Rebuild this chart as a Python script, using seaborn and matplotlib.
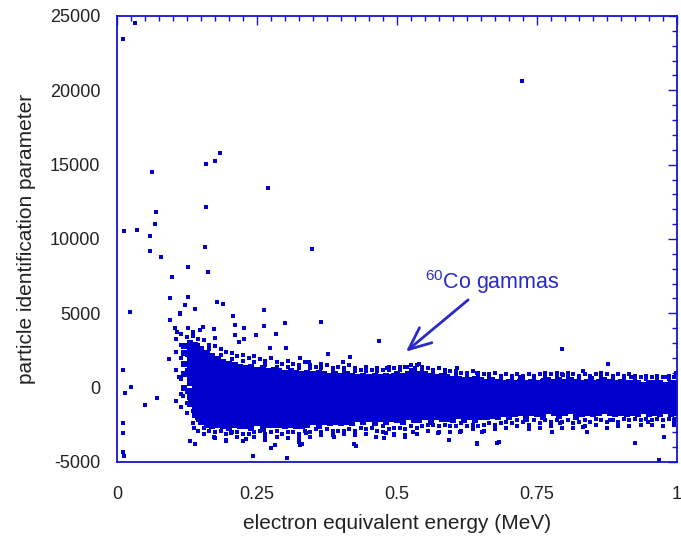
import matplotlib
matplotlib.use("Agg")
import matplotlib.pyplot as plt
from matplotlib.ticker import MultipleLocator
import pandas as pd
import seaborn as sns

# ---- data -------------------------------------------------------------
# Dense gamma band: one list of PID values per energy column (MeV)
core_energy = [
    0.12, 0.13, 0.14, 0.15, 0.16, 0.17, 0.18, 0.19, 0.20, 0.21,
    0.22, 0.23, 0.24, 0.25, 0.26, 0.27, 0.28, 0.29, 0.30, 0.31,
    0.32, 0.33, 0.34, 0.35, 0.36, 0.37, 0.38, 0.39, 0.40, 0.41,
    0.42, 0.43, 0.44, 0.45, 0.46, 0.47, 0.48, 0.49, 0.50, 0.51,
    0.52, 0.53, 0.54, 0.55, 0.56, 0.57, 0.58, 0.59, 0.60, 0.61,
    0.62, 0.63, 0.64, 0.65, 0.66, 0.67, 0.68, 0.69, 0.70, 0.71,
    0.72, 0.73, 0.74, 0.75, 0.76, 0.77, 0.78, 0.79, 0.80, 0.81,
    0.82, 0.83, 0.84, 0.85, 0.86, 0.87, 0.88, 0.89, 0.90, 0.91,
    0.92, 0.93, 0.94, 0.95, 0.96, 0.97, 0.98, 0.99, 1.00,
]
core_pid = [
    [2800, 2300, 1600, 900, 0],
    [3000, 2600, 2200, 1900, 1500, 1100, 700, 300, -200, -600, -1100],
    [2900, 2500, 2100, 1800, 1400, 1000, 700, 300, -100, -500, -900, -1300, -1700],
    [2600, 2300, 1900, 1500, 1200, 800, 500, 100, -200, -600, -900, -1300, -1600, -2000, -2300],
    [2300, 2000, 1600, 1300, 900, 600, 200, -100, -500, -800, -1100, -1500, -1800, -2100, -2500],
    [2100, 1700, 1400, 1000, 700, 300, 0, -400, -700, -1000, -1300, -1700, -2000, -2300, -2600],
    [1900, 1500, 1200, 800, 500, 100, -200, -500, -800, -1200, -1500, -1800, -2100, -2500],
    [1700, 1400, 1000, 700, 400, 0, -300, -600, -900, -1300, -1600, -1900, -2200, -2600],
    [1600, 1200, 900, 600, 200, -100, -400, -700, -1000, -1400, -1700, -2000, -2400, -2700],
    [1500, 1100, 800, 500, 100, -200, -500, -800, -1200, -1500, -1800, -2100, -2500],
    [1400, 1100, 700, 400, 100, -300, -600, -900, -1200, -1500, -1900, -2200, -2600],
    [1300, 1000, 700, 300, 0, -300, -600, -900, -1300, -1600, -1900, -2300, -2600],
    [1400, 1000, 600, 300, 0, -400, -700, -1000, -1300, -1600, -2000, -2300, -2700],
    [1200, 900, 600, 200, -100, -400, -700, -1000, -1400, -1700, -2000, -2400],
    [1300, 900, 500, 200, -100, -400, -700, -1100, -1400, -1700, -2100, -2400, -2800],
    [1100, 800, 500, 200, -200, -500, -800, -1100, -1400, -1800, -2100, -2500],
    [1200, 800, 400, 100, -200, -500, -800, -1100, -1500, -1800, -2100, -2500],
    [1100, 700, 400, 100, -200, -600, -900, -1200, -1500, -1800, -2200, -2500],
    [1000, 700, 400, 0, -300, -600, -900, -1200, -1500, -1900, -2200, -2600],
    [1100, 700, 300, 0, -300, -600, -900, -1300, -1600, -1900, -2200, -2500],
    [1000, 600, 300, 0, -300, -700, -1000, -1300, -1600, -1900, -2300, -2600],
    [900, 600, 300, -100, -400, -700, -1000, -1300, -1600, -2000, -2300, -2600],
    [1000, 700, 300, 0, -300, -600, -1000, -1300, -1600, -1900, -2200, -2500],
    [900, 600, 200, -100, -400, -700, -1000, -1300, -1700, -2000, -2300],
    [1000, 600, 300, 0, -400, -700, -1000, -1300, -1600, -1900, -2300, -2600],
    [900, 500, 200, -100, -400, -700, -1100, -1400, -1700, -2000, -2300],
    [800, 500, 200, -100, -500, -800, -1100, -1400, -1700, -2000, -2400],
    [900, 600, 200, -100, -400, -700, -1000, -1400, -1700, -2000, -2300],
    [800, 500, 100, -200, -500, -800, -1100, -1400, -1700, -2100, -2400],
    [900, 500, 200, -100, -400, -700, -1000, -1300, -1700, -2000, -2300],
    [800, 400, 100, -200, -500, -800, -1100, -1500, -1800, -2100, -2400],
    [700, 400, 100, -200, -500, -900, -1200, -1500, -1800, -2100],
    [800, 500, 200, -200, -500, -800, -1100, -1400, -1700, -2000, -2300],
    [700, 400, 100, -200, -600, -900, -1200, -1500, -1800, -2100],
    [800, 400, 100, -200, -500, -800, -1100, -1400, -1700, -2000, -2400],
    [700, 400, 0, -300, -600, -900, -1200, -1500, -1800, -2100],
    [800, 500, 100, -200, -500, -800, -1100, -1400, -1700, -2000, -2300],
    [700, 400, 100, -200, -500, -800, -1200, -1500, -1800, -2100],
    [900, 500, 200, -100, -400, -700, -1000, -1300, -1600, -1900, -2200],
    [800, 500, 200, -100, -500, -800, -1100, -1400, -1700, -2000, -2300],
    [900, 500, 200, -100, -400, -700, -1000, -1300, -1700, -2000],
    [1000, 700, 300, 0, -300, -600, -900, -1200, -1500, -1800, -2200],
    [900, 600, 300, 0, -300, -700, -1000, -1300, -1600, -1900, -2200],
    [900, 500, 200, -100, -400, -700, -1000, -1300, -1600, -2000],
    [800, 500, 200, -100, -400, -700, -1000, -1400, -1700, -2000, -2300],
    [700, 400, 100, -200, -500, -800, -1100, -1400, -1700, -2000],
    [800, 400, 100, -200, -500, -800, -1200, -1500, -1800, -2100],
    [700, 300, 0, -300, -600, -900, -1200, -1500, -1800, -2100],
    [600, 300, 0, -300, -600, -900, -1300, -1600, -1900, -2200],
    [600, 300, 0, -300, -700, -1000, -1300, -1600, -1900],
    [500, 200, -100, -400, -700, -1000, -1300, -1600, -1900, -2200],
    [500, 200, -100, -400, -700, -1000, -1300, -1700, -2000],
    [600, 200, -100, -400, -700, -1000, -1300, -1600, -1900, -2200],
    [500, 200, -100, -400, -800, -1100, -1400, -1700, -2000],
    [400, 100, -200, -500, -800, -1100, -1400, -1700, -2000],
    [500, 200, -100, -400, -700, -1000, -1300, -1600, -1900],
    [400, 100, -200, -500, -800, -1100, -1400, -1700, -2000],
    [300, 0, -300, -600, -900, -1200, -1500, -1800],
    [400, 100, -200, -500, -800, -1100, -1400, -1700, -2000],
    [300, 0, -300, -600, -900, -1200, -1500, -1800],
    [400, 100, -200, -500, -800, -1100, -1400, -1700],
    [300, 0, -300, -600, -900, -1200, -1500, -1800, -2100],
    [400, 100, -200, -500, -800, -1100, -1400, -1700],
    [300, 0, -300, -600, -900, -1200, -1500, -1800],
    [400, 100, -200, -500, -800, -1100, -1400, -1700, -2000],
    [500, 200, -100, -400, -700, -1000, -1300, -1600],
    [400, 100, -200, -500, -800, -1100, -1400, -1700],
    [500, 200, -100, -400, -700, -1000, -1300, -1600, -1900],
    [400, 100, -200, -500, -800, -1100, -1400, -1700],
    [500, 200, -100, -400, -700, -1000, -1300, -1600],
    [400, 100, -200, -500, -800, -1100, -1400, -1700, -2000],
    [300, 0, -300, -600, -900, -1200, -1500, -1800],
    [400, 100, -200, -500, -800, -1100, -1400, -1700],
    [300, 0, -300, -600, -900, -1200, -1500, -1800],
    [400, 100, -200, -500, -800, -1100, -1400, -1700],
    [500, 200, -100, -400, -700, -1000, -1300, -1600],
    [400, 100, -200, -500, -800, -1100, -1400, -1700],
    [300, 0, -300, -600, -900, -1200, -1500, -1800],
    [400, 100, -200, -500, -800, -1100, -1400, -1700],
    [300, 0, -300, -600, -900, -1200, -1500, -1800],
    [300, 0, -300, -600, -900, -1200, -1500, -1700],
    [300, 0, -300, -600, -900, -1200, -1500, -1800],
    [200, -100, -400, -700, -1000, -1300, -1600],
    [300, 0, -300, -600, -900, -1200, -1500, -1800],
    [300, 0, -300, -600, -900, -1200, -1500, -1700],
    [300, 0, -300, -600, -900, -1200, -1500, -1800],
    [200, -100, -400, -700, -1000, -1300, -1600],
    [300, 0, -300, -600, -900, -1200, -1500, -1800],
    [300, 0, -300, -600, -900, -1200, -1500, -1700],
]

# Looser events along the upper and lower edges of the band
fringe_energy = [
    0.105, 0.115, 0.125, 0.135, 0.145, 0.155, 0.165, 0.175, 0.185, 0.195,
    0.205, 0.215, 0.225, 0.235, 0.245, 0.255, 0.265, 0.275, 0.285, 0.295,
    0.305, 0.315, 0.325, 0.335, 0.345, 0.355, 0.365, 0.375, 0.385, 0.395,
    0.405, 0.415, 0.425, 0.435, 0.445, 0.455, 0.465, 0.475, 0.485, 0.495,
    0.505, 0.515, 0.525, 0.535, 0.545, 0.555, 0.565, 0.575, 0.585, 0.595,
    0.605, 0.615, 0.625, 0.635, 0.645, 0.655, 0.665, 0.675, 0.685, 0.695,
    0.705, 0.715, 0.725, 0.735, 0.745, 0.755, 0.765, 0.775, 0.785, 0.795,
    0.805, 0.815, 0.825, 0.835, 0.845, 0.855, 0.865, 0.875, 0.885, 0.895,
    0.905, 0.915, 0.925, 0.935, 0.945, 0.955, 0.965, 0.975, 0.985, 0.995,
]
fringe_pid = [
    [3300, 2400, 1200, -900],
    [3600, 2900, 2000, 600, -400, -1300],
    [3400, 2900, 2200, 1200, -300, -1000, -1700],
    [3500, -1600, -2400],
    [3300, 2900, -2200, -2900],
    [3200, -2700, -3100],
    [2900, 2600, -2900],
    [2800, -3000, -3400],
    [2600, 2200, -2900],
    [2400, -3100, -3500],
    [2300, 1900, -3000],
    [2100, -3000, -3300],
    [2200, 1800, -3100, -3600],
    [2000, -3100],
    [2100, 1700, -3000, -3300],
    [1900, -2900],
    [1800, 1500, -3100, -3500],
    [2000, -3000],
    [1700, 1400, -2900, -3300],
    [1600, -3100],
    [1800, 1400, -3000, -3400],
    [1600, -3000],
    [1500, 1300, -3100, -3400],
    [1700, -2900],
    [1500, 1300, -3000, -3300],
    [1400, -2800],
    [1600, 1300, -3000, -3200],
    [1500, -2800],
    [1300, 1100, -2900, -3200],
    [1400, -2900],
    [1300, 1100, -2900, -3100],
    [1500, -2800],
    [1300, 1100, -2900, -3200],
    [1200, -2700],
    [1400, 1100, -2800, -3100],
    [1200, -2700],
    [1300, 1100, -2900],
    [1200, -2600, -3000],
    [1400, 1200, -2800],
    [1300, -2700, -3100],
    [1400, 1200, -2700],
    [1400, -2800, -3200],
    [1500, 1200, -2600],
    [1500, -2700, -3100],
    [1400, 1200, -2600],
    [1300, -2500, -2900],
    [1200, 1000, -2500],
    [1300, -2600, -3000],
    [1200, 900, -2500],
    [1100, -2600, -3000],
    [1100, 900, -2600],
    [1000, -2400, -2900],
    [1000, 800, -2600],
    [1100, -2500, -2800],
    [1000, 800, -2600],
    [900, -2500, -2900],
    [900, 700, -2400],
    [1000, -2500, -2800],
    [800, 600, -2400],
    [900, -2300, -2700],
    [800, 600, -2400],
    [900, -2200, -2600],
    [800, 600, -2300],
    [900, -2500, -2800],
    [800, 600, -2200],
    [900, -2400, -2700],
    [1000, 700, -2200],
    [900, -2300, -2600],
    [1000, 700, -2200],
    [900, -2300, -2700],
    [1000, 700, -2200],
    [900, -2400, -2700],
    [800, 600, -2300],
    [900, -2200, -2600],
    [800, 600, -2300],
    [900, -2100, -2500],
    [1000, 700, -2200],
    [900, -2300, -2700],
    [800, 600, -2200],
    [900, -2300, -2600],
    [800, 600, -2100],
    [900, -2200, -2600],
    [800, 600, -2100],
    [700, -2200, -2500],
    [800, 600, -2100],
    [700, -2200, -2500],
    [800, 600, -2100],
    [700, -2200, -2600],
    [800, 600, -2100],
    [700, -2200, -2500],
]

# Sparse events around the band and isolated high-PID events
sparse_energy = [
    0.033, 0.010, 0.063, 0.159, 0.175, 0.184, 0.270, 0.159, 0.069, 0.067,
    0.012, 0.036, 0.059, 0.158, 0.348, 0.723, 0.059, 0.079, 0.127, 0.098,
    0.163, 0.095, 0.126, 0.178, 0.190, 0.140, 0.112, 0.023, 0.208, 0.263,
    0.300, 0.365, 0.467, 0.210, 0.226, 0.262, 0.174, 0.010, 0.025, 0.015,
    0.050, 0.072, 0.093, 0.105, 0.110, 0.011, 0.011, 0.011, 0.131, 0.140,
    0.174, 0.194, 0.242, 0.231, 0.265, 0.282, 0.303, 0.325, 0.330, 0.423,
    0.794, 0.877, 0.539, 0.593, 0.642, 0.678, 0.967, 0.776, 0.833, 0.949,
    0.976, 0.925, 0.607, 0.833, 0.095, 0.104, 0.108, 0.126, 0.136, 0.148,
    0.112, 0.121, 0.154, 0.175, 0.211, 0.226, 0.249, 0.284, 0.274, 0.302,
    0.327, 0.342, 0.377, 0.404, 0.416, 0.445, 0.482, 0.493, 0.217, 0.518,
    0.532, 0.642, 0.796, 0.917, 0.982, 0.998, 0.720, 0.760, 0.848, 0.117,
    0.130, 0.137, 0.142, 0.138, 0.155, 0.203, 0.338, 0.387, 0.462, 0.477,
    0.494, 0.514, 0.529, 0.480, 0.613, 0.651, 0.791, 0.839, 0.880, 0.994,
    0.574, 0.013, 0.275, 0.326, 0.427, 0.643, 0.682,
]
sparse_pid = [
    24550, 23450, 14530, 15025, 15270, 15760, 13450, 12130, 11790, 11020,
    10520, 10630, 10230, 9480, 9300, 20630, 9190, 8770, 8140, 7470,
    7760, 6010, 6120, 5740, 5610, 5290, 4940, 5070, 4820, 5230,
    4330, 4440, 3160, 4220, 4040, 4150, 3950, 1190, 70, -340,
    -1160, -710, 1900, -870, 700, -2400, -3070, -4310, -3590, -3790,
    -3300, -3590, -4600, -3470, -3300, -3850, -4750, -3680, -3790, -3810,
    2590, 1570, 1590, -3520, -3700, -3700, -4850, -2960, -2620, -2290,
    -3300, -3740, 1300, 1140, 4550, 3990, 3770, 3990, 3770, 3880,
    5000, 5560, 4100, 3320, 3540, 3250, 3540, 3610, 2690, 2650,
    1980, 1750, 2250, 1750, 2090, 1410, 1300, 850, 3070, 1370,
    1300, 970, 830, 740, 740, 970, 740, 500, 630, -560,
    -940, -1900, -2060, -2690, -2730, -3030, -3030, -3300, -3300, -3400,
    -3180, -3300, -2960, -3030, -2960, -2960, -2400, -2960, -2170, -2400,
    -3070, -4620, -4040, -3870, -3950, -3790, -3650,
]

x_ticks = [0, 0.25, 0.5, 0.75, 1]
x_tick_labels = ["0", "0.25", "0.5", "0.75", "1"]
y_ticks = [-5000, 0, 5000, 10000, 15000, 20000, 25000]
y_tick_labels = ["-5000", "0", "5000", "10000", "15000", "20000", "25000"]

# ---- style ------------------------------------------------------------
sns.set_style("white")
plt.rcParams["font.family"] = ["Liberation Sans", "DejaVu Sans"]
plt.rcParams["mathtext.fontset"] = "custom"
plt.rcParams["mathtext.rm"] = "Liberation Sans"
plt.rcParams["mathtext.it"] = "Liberation Sans"

BLUE = "#0000cc"
AXIS_BLUE = "#1414d8"
TEXT_BLUE = "#2a2acc"

core = pd.DataFrame(
    [(e, v) for e, col in zip(core_energy, core_pid) for v in col],
    columns=["energy", "pid"],
)
fringe = pd.DataFrame(
    [(e, v) for e, col in zip(fringe_energy, fringe_pid) for v in col],
    columns=["energy", "pid"],
)
sparse = pd.DataFrame({"energy": sparse_energy, "pid": sparse_pid})

fig = plt.figure(figsize=(6.81, 5.36), dpi=100)
ax = fig.add_axes([0.1718, 0.1381, 0.8223, 0.8321])

sns.scatterplot(data=core, x="energy", y="pid", marker="s", s=13,
                color=BLUE, linewidth=0, ax=ax, legend=False)
sns.scatterplot(data=fringe, x="energy", y="pid", marker="s", s=6,
                color=BLUE, linewidth=0, ax=ax, legend=False)
sns.scatterplot(data=sparse, x="energy", y="pid", marker="s", s=5,
                color=BLUE, linewidth=0, ax=ax, legend=False)

ax.set_xlim(0, 1)
ax.set_ylim(-5000, 25000)
ax.set_xticks(x_ticks)
ax.set_xticklabels(x_tick_labels)
ax.set_yticks(y_ticks)
ax.set_yticklabels(y_tick_labels)
ax.xaxis.set_minor_locator(MultipleLocator(0.025))
ax.yaxis.set_minor_locator(MultipleLocator(1000))

for sp in ax.spines.values():
    sp.set_visible(True)
    sp.set_color(AXIS_BLUE)
    sp.set_linewidth(1.3)

ax.tick_params(which="both", direction="in", top=True, right=True,
               color=AXIS_BLUE, width=1.0, labelcolor="#222222",
               labelsize=13)
ax.tick_params(which="major", length=6.5)
ax.tick_params(which="minor", length=3.5)
ax.tick_params(axis="x", which="major", pad=17)
ax.tick_params(axis="y", which="major", pad=12)

ax.set_xlabel("electron equivalent energy (MeV)", fontsize=15, color="#222222",
              labelpad=8)
ax.set_ylabel("particle identification parameter", fontsize=15,
              color="#222222", labelpad=10)

ax.text(0.55, 6640, "$^{60}$Co gammas", color=TEXT_BLUE, fontsize=15.5,
        ha="left", va="baseline")
ax.annotate("", xy=(0.516, 2420), xytext=(0.627, 5900),
            arrowprops=dict(arrowstyle="->,head_length=0.8,head_width=0.35",
                            color=TEXT_BLUE, lw=2, mutation_scale=20,
                            shrinkA=0, shrinkB=0))

fig.savefig("out.png", dpi=100)
